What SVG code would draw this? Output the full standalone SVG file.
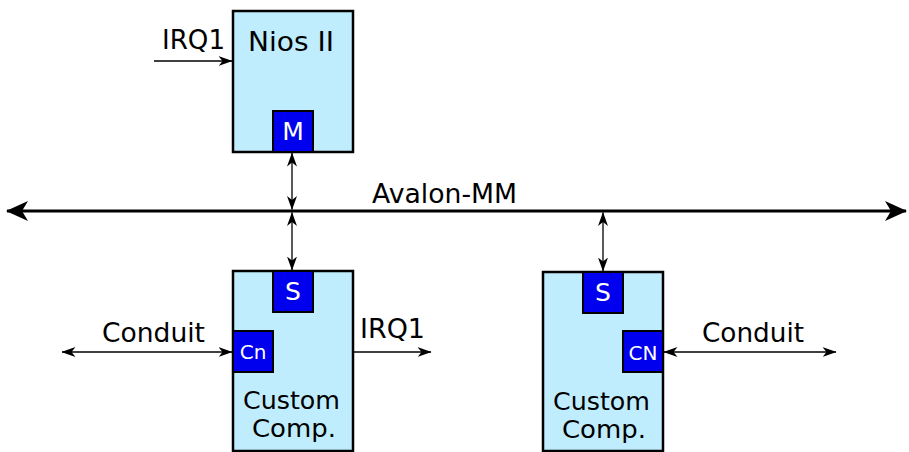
<svg xmlns="http://www.w3.org/2000/svg" width="909" height="452" viewBox="0 0 909 452">
<style>
.box{fill:#bfedfd;stroke:#000;stroke-width:2.5}
.port{fill:#0000ee;stroke:#000;stroke-width:2}
.t{font-family:"DejaVu Sans",Verdana,sans-serif;font-size:26px;fill:#000}
.c{font-size:25px}
.pt{font-family:"DejaVu Sans",Verdana,sans-serif;fill:#fff;text-anchor:middle}
.ln{stroke:#000;stroke-width:1.3;fill:none}
.bus{stroke:#000;stroke-width:3;fill:none}
</style>
<defs>
<marker id="a" viewBox="0 0 14 10" refX="13.5" refY="5" markerWidth="14" markerHeight="10" markerUnits="userSpaceOnUse" orient="auto-start-reverse">
<path d="M0,0 L14,5 L0,10 L4,5 z" fill="#000"/>
</marker>
<marker id="b" viewBox="0 0 22 22" refX="21" refY="11" markerWidth="22" markerHeight="22" markerUnits="userSpaceOnUse" orient="auto-start-reverse">
<path d="M0,1 L22,11 L0,21 L6,11 z" fill="#000"/>
</marker>
</defs>
<g id="connectors">
<line class="ln" x1="154" y1="61" x2="232" y2="61" marker-end="url(#a)"/>
<line class="bus" x1="7" y1="211" x2="906" y2="211" marker-start="url(#b)" marker-end="url(#b)"/>
<line class="ln" x1="292" y1="153" x2="292" y2="209.5" marker-start="url(#a)" marker-end="url(#a)"/>
<line class="ln" x1="292" y1="212.5" x2="292" y2="270" marker-start="url(#a)" marker-end="url(#a)"/>
<line class="ln" x1="603" y1="212.5" x2="603" y2="271" marker-start="url(#a)" marker-end="url(#a)"/>
<line class="ln" x1="62" y1="352" x2="232" y2="352" marker-start="url(#a)" marker-end="url(#a)"/>
<line class="ln" x1="354" y1="352" x2="431" y2="352" marker-end="url(#a)"/>
<line class="ln" x1="664" y1="352" x2="836" y2="352" marker-start="url(#a)" marker-end="url(#a)"/>
<text class="t" x="162" y="49" textLength="63" lengthAdjust="spacingAndGlyphs">IRQ1</text>
<text class="t" x="372" y="203" textLength="145" lengthAdjust="spacingAndGlyphs">Avalon-MM</text>
<text class="t" x="102" y="342" textLength="103" lengthAdjust="spacingAndGlyphs">Conduit</text>
<text class="t" x="360" y="338" textLength="65" lengthAdjust="spacingAndGlyphs">IRQ1</text>
<text class="t" x="702" y="342" textLength="102" lengthAdjust="spacingAndGlyphs">Conduit</text>
</g>
<g id="nios">
<rect class="box" x="233" y="11" width="120" height="141"/>
<text class="t" x="248" y="51" textLength="86" lengthAdjust="spacingAndGlyphs">Nios II</text>
<rect class="port" x="273" y="111" width="40" height="41"/>
<text class="pt" x="293" y="140" font-size="25">M</text>
</g>
<g id="custom1">
<rect class="box" x="233" y="271" width="120" height="180"/>
<rect class="port" x="273" y="271" width="40" height="41"/>
<text class="pt" x="293" y="300" font-size="25">S</text>
<rect class="port" x="233" y="331" width="40" height="41"/>
<text class="pt" x="253" y="359" font-size="20">Cn</text>
<text class="t c" x="243" y="409" textLength="97" lengthAdjust="spacingAndGlyphs">Custom</text>
<text class="t c" x="252" y="437" textLength="84" lengthAdjust="spacingAndGlyphs">Comp.</text>
</g>
<g id="custom2">
<rect class="box" x="543" y="272" width="120" height="179"/>
<rect class="port" x="583" y="272" width="40" height="41"/>
<text class="pt" x="603" y="301" font-size="25">S</text>
<rect class="port" x="623" y="331" width="40" height="41"/>
<text class="pt" x="643" y="360" font-size="20">CN</text>
<text class="t c" x="553" y="410" textLength="97" lengthAdjust="spacingAndGlyphs">Custom</text>
<text class="t c" x="562" y="438" textLength="84" lengthAdjust="spacingAndGlyphs">Comp.</text>
</g>
</svg>
